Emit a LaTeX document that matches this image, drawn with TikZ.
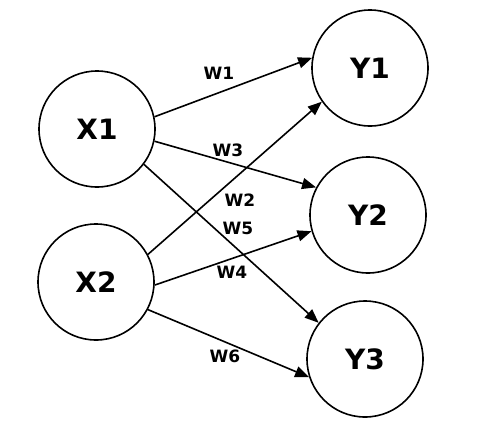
\documentclass[tikz,border=0pt]{standalone}
\usepackage{fontspec}
\setmainfont{DejaVu Sans}
\usepackage{tikz}
\usetikzlibrary{arrows.meta, positioning}
\tikzstyle{unit} = [circle, draw=black, line width=1.6pt, minimum size=116pt, inner sep=0,
                    font=\fontsize{28}{30}\selectfont\bfseries]
\tikzstyle{weight} = [font=\fontsize{17}{19}\selectfont\bfseries, inner sep=0]
\tikzstyle{link} = [line width=1.6pt, -{Triangle[length=14pt, width=11pt]}]

\begin{document}
\begin{tikzpicture}[x=1pt, y=-1pt]
				\useasboundingbox (0, 0) rectangle (484, 442);

				\node (X1) [unit] at (97, 129) {X1};
				\node (X2) [unit] at (96, 282) {X2};

				\node (Y1) [unit] at (370, 68) {Y1};
				\node (Y2) [unit] at (368, 215) {Y2};
				\node (Y3) [unit] at (365, 359) {Y3};

				\draw [link] (X1.12) -- (Y1.170);
				\draw [link] (X1.348) -- (Y2.152);
				\draw [link] (X1.323) -- (Y3.142);
				\draw [link] (X2.28) -- (Y1.215);
				\draw [link] (X2.357) -- (Y2.196);
				\draw [link] (X2.332) -- (Y3.198);

				\node (W1) [weight] at (219, 73) {W1};
				\node (W3) [weight] at (228, 150) {W3};
				\node (W2) [weight] at (240, 200) {W2};
				\node (W5) [weight] at (238, 228) {W5};
				\node (W4) [weight] at (232, 272) {W4};
				\node (W6) [weight] at (225, 356) {W6};
			\end{tikzpicture}
\end{document}
